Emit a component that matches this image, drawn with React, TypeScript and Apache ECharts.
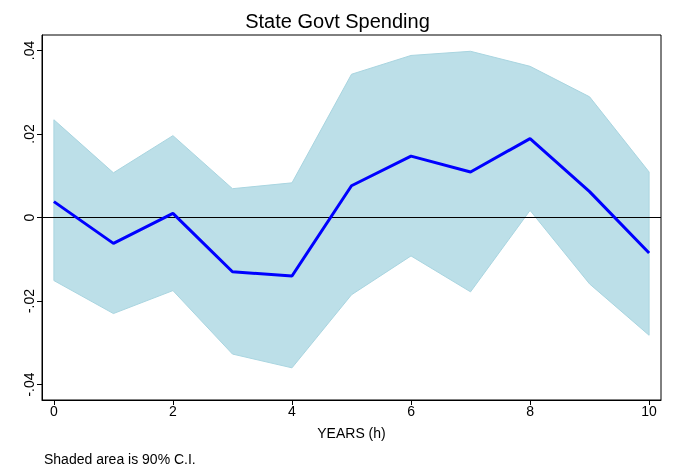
import React, { useEffect, useRef } from 'react';
import * as echarts from 'echarts';

const years = [0, 1, 2, 3, 4, 5, 6, 7, 8, 9, 10];
const estimate = [0.0038, -0.0062, 0.001, -0.013, -0.014, 0.0076, 0.0147, 0.0109, 0.0189, 0.0062, -0.0085];
const upper = [0.0234, 0.0107, 0.0196, 0.0069, 0.0083, 0.0343, 0.0388, 0.0398, 0.0362, 0.0289, 0.0109];
const lower = [-0.0151, -0.023, -0.0175, -0.0327, -0.036, -0.0185, -0.0092, -0.0178, 0.0017, -0.0159, -0.0282];
const yTicks = [-0.04, -0.02, 0, 0.02, 0.04];
const xTicks = [0, 2, 4, 6, 8, 10];

const fmtY = (v: number) => {
  if (Math.abs(v) < 1e-9) return '0';
  return v.toFixed(2).replace('0.', '.');
};

const App: React.FC = () => {
  const ref = useRef<HTMLDivElement>(null);

  useEffect(() => {
    if (!ref.current) return;
    const chart = echarts.init(ref.current, undefined, { renderer: 'svg' });
    const font = 'Liberation Sans, Arial, sans-serif';
    chart.setOption({
      animation: false,
      textStyle: { fontFamily: font },
      title: {
        text: 'State Govt Spending',
        left: 'center',
        top: 6,
        textStyle: { fontSize: 20, fontWeight: 'normal', color: '#000', fontFamily: font },
      },
      graphic: [
        { type: 'text', left: 44, top: 452, style: { text: 'Shaded area is 90% C.I.', fontSize: 14, fill: '#000', fontFamily: font } },
      ],
      grid: { left: 42, right: 14, top: 35, bottom: 74, show: true, borderColor: '#000', borderWidth: 1, backgroundColor: '#fff' },
      xAxis: {
        type: 'value',
        min: -0.2,
        max: 10.2,
        name: 'YEARS (h)',
        nameLocation: 'middle',
        nameGap: 26,
        nameTextStyle: { fontSize: 14, color: '#000' },
        axisLine: { show: true, onZero: false, lineStyle: { color: '#000' } },
        splitLine: { show: false },
        axisTick: { show: true, inside: false, customValues: xTicks, lineStyle: { color: '#000' }, length: 5 },
        axisLabel: { customValues: xTicks, fontSize: 14, color: '#000', margin: 4 },
      },
      yAxis: {
        type: 'value',
        min: -0.0437,
        max: 0.0437,
        axisLine: { show: true, onZero: false, lineStyle: { color: '#000' } },
        splitLine: { show: false },
        axisTick: { show: true, inside: false, customValues: yTicks, lineStyle: { color: '#000' }, length: 5 },
        axisLabel: { customValues: yTicks, formatter: fmtY, rotate: 90, fontSize: 14, color: '#000', margin: 6 },
      },
      series: [
        {
          type: 'custom',
          silent: true,
          data: [0],
          renderItem: (_params: any, api: any) => {
            const pts = [
              ...years.map((x, i) => api.coord([x, upper[i]])),
              ...years.map((x, i) => api.coord([x, lower[i]])).reverse(),
            ];
            return {
              type: 'polygon',
              shape: { points: pts },
              style: { fill: '#bcdfe8', stroke: '#a9d5e0', lineWidth: 1 },
            };
          },
          z: 1,
        },
        {
          type: 'line',
          data: years.map((x, i) => [x, estimate[i]]),
          symbol: 'none',
          lineStyle: { width: 3, color: '#0000ff' },
          z: 5,
          markLine: {
            silent: true,
            symbol: 'none',
            label: { show: false },
            lineStyle: { color: '#000', width: 1, type: 'solid' },
            data: [{ yAxis: 0 }],
          },
        },
      ],
    });
    return () => chart.dispose();
  }, []);

  return <div ref={ref} style={{ position: 'fixed', left: 0, top: 0, width: 675, height: 474 }} />;
};

export default App;
